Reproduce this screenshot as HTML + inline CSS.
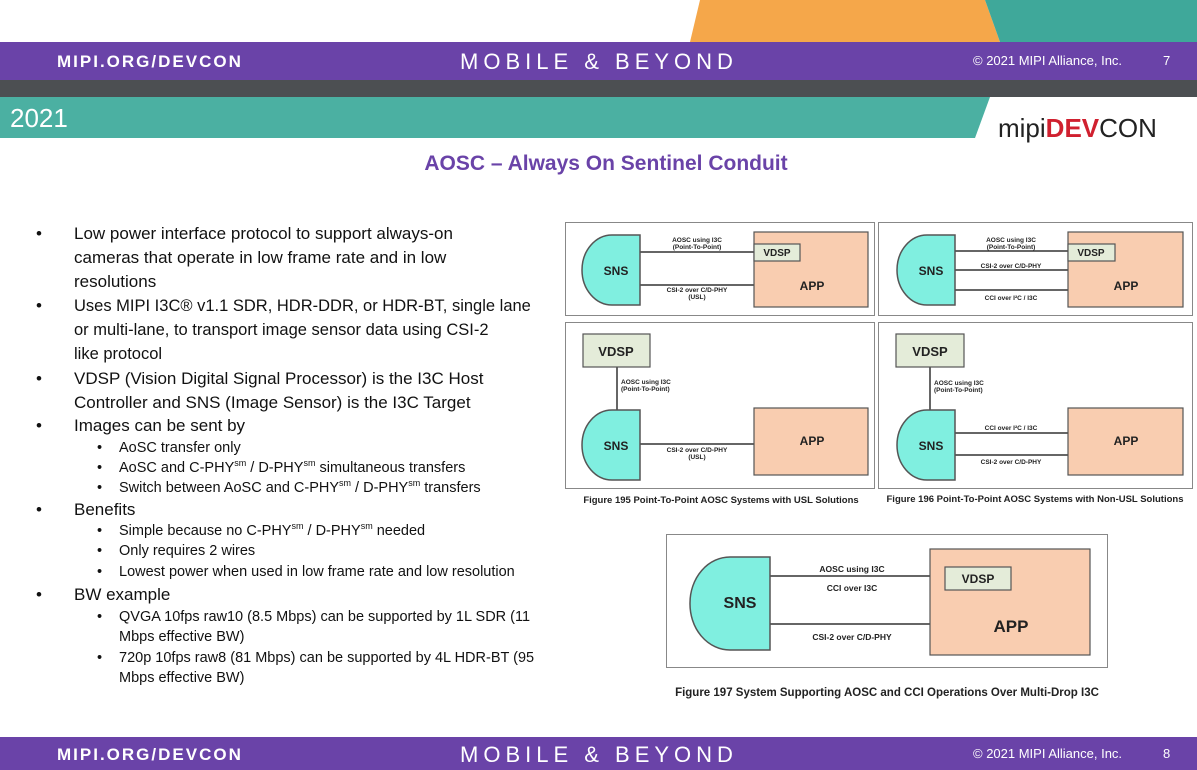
<!DOCTYPE html>
<html><head><meta charset="utf-8"><style>
body{margin:0;width:1197px;height:770px;position:relative;background:#fff;font-family:"Liberation Sans",sans-serif;overflow:hidden}
.a{position:absolute}
.b{position:absolute;font-size:17px;color:#111;line-height:24px;white-space:nowrap}
.s{position:absolute;font-size:14.5px;color:#111;line-height:20px;white-space:nowrap}
sup{font-size:9px;line-height:0;vertical-align:6px}
.hdr{color:#fff;font-weight:bold;letter-spacing:2px;font-size:17px}
</style></head><body>
<div class="a" style="left:0;top:0;width:1197px;height:42px;background:#fff"></div>
<svg class="a" style="left:0;top:0" width="1197" height="42"><polygon points="700,0 985,0 1000,42 690,42" fill="#f5a74a"/><polygon points="985,0 1197,0 1197,42 1000,42" fill="#3fa89a"/></svg>
<div class="a" style="left:0;top:42px;width:1197px;height:38px;background:#6a43a8"></div>
<div class="a hdr" style="left:57px;top:52px">MIPI.ORG/DEVCON</div>
<div class="a" style="left:460px;top:49px;color:#fff;font-size:22px;letter-spacing:5px">MOBILE &amp; BEYOND</div>
<div class="a" style="left:973px;top:53px;color:#fff;font-size:13px">© 2021 MIPI Alliance, Inc.</div>
<div class="a" style="left:1163px;top:53px;color:#fff;font-size:13px">7</div>
<div class="a" style="left:0;top:80px;width:1197px;height:17px;background:#4c4f52"></div>
<div class="a" style="left:0;top:97px;width:1197px;height:41px;background:#4bb0a2"></div>
<svg class="a" style="left:0;top:97px" width="1197" height="41"><polygon points="990,0 1197,0 1197,41 975,41" fill="#fff"/></svg>
<div class="a" style="left:10px;top:103px;color:#fff;font-size:26px">2021</div>
<div class="a" style="left:998px;top:113px;font-size:26px;color:#222">mipi<b style="color:#d0202f">DEV</b>CON</div>
<div class="a" style="left:0;top:152px;width:1212px;text-align:center;color:#6a43a8;font-weight:bold;font-size:21px">AOSC – Always On Sentinel Conduit</div>

<div class="b" style="left:36px;top:222px">•</div>
<div class="b" style="left:74px;top:222px">Low power interface protocol to support always-on<br>cameras that operate in low frame rate and in low<br>resolutions</div>
<div class="b" style="left:36px;top:294px">•</div>
<div class="b" style="left:74px;top:294px;font-size:16.5px">Uses MIPI I3C® v1.1 SDR, HDR-DDR, or HDR-BT, single lane<br>or multi-lane, to transport image sensor data using CSI-2<br>like protocol</div>
<div class="b" style="left:36px;top:367px">•</div>
<div class="b" style="left:74px;top:367px">VDSP (Vision Digital Signal Processor) is the I3C Host<br>Controller and SNS (Image Sensor) is the I3C Target</div>
<div class="b" style="left:36px;top:414px">•</div>
<div class="b" style="left:74px;top:414px">Images can be sent by</div>
<div class="s" style="left:97px;top:438px">•</div><div class="s" style="left:119px;top:438px">AoSC transfer only</div>
<div class="s" style="left:97px;top:458px">•</div><div class="s" style="left:119px;top:458px">AoSC and C-PHY<sup>sm</sup> / D-PHY<sup>sm</sup> simultaneous transfers</div>
<div class="s" style="left:97px;top:478px">•</div><div class="s" style="left:119px;top:478px">Switch between AoSC and C-PHY<sup>sm</sup> / D-PHY<sup>sm</sup> transfers</div>
<div class="b" style="left:36px;top:498px">•</div>
<div class="b" style="left:74px;top:498px">Benefits</div>
<div class="s" style="left:97px;top:521px">•</div><div class="s" style="left:119px;top:521px">Simple because no C-PHY<sup>sm</sup> / D-PHY<sup>sm</sup> needed</div>
<div class="s" style="left:97px;top:541px">•</div><div class="s" style="left:119px;top:541px">Only requires 2 wires</div>
<div class="s" style="left:97px;top:562px">•</div><div class="s" style="left:119px;top:562px">Lowest power when used in low frame rate and low resolution</div>
<div class="b" style="left:36px;top:583px">•</div>
<div class="b" style="left:74px;top:583px">BW example</div>
<div class="s" style="left:97px;top:607px">•</div><div class="s" style="left:119px;top:607px">QVGA 10fps raw10 (8.5 Mbps) can be supported by 1L SDR (11<br>Mbps effective BW)</div>
<div class="s" style="left:97px;top:648px">•</div><div class="s" style="left:119px;top:648px">720p 10fps raw8 (81 Mbps) can be supported by 4L HDR-BT (95<br>Mbps effective BW)</div>

<svg class="a" style="left:0;top:0" width="1197" height="770" font-family="Liberation Sans, sans-serif" font-weight="bold">
<defs>
<g id="sns"><path d="M58,0 H30 A30,35 0 0 0 0,35 A30,35 0 0 0 30,70 H58 Z" fill="#80efe0" stroke="#555" stroke-width="1.5"/><text x="34" y="40" font-size="12" text-anchor="middle" fill="#222">SNS</text></g>
</defs>
<g fill="none" stroke="#888"><rect x="565.5" y="222.5" width="309" height="93"/><rect x="878.5" y="222.5" width="314" height="93"/><rect x="565.5" y="322.5" width="309" height="166"/><rect x="878.5" y="322.5" width="314" height="166"/><rect x="666.5" y="534.5" width="441" height="133"/></g>
<g stroke="#333" stroke-width="1.5">
<line x1="640" y1="252" x2="754" y2="252"/><line x1="640" y1="285" x2="754" y2="285"/>
<line x1="955" y1="251" x2="1068" y2="251"/><line x1="955" y1="270" x2="1068" y2="270"/><line x1="955" y1="290" x2="1068" y2="290"/>
<line x1="617" y1="367" x2="617" y2="410"/><line x1="640" y1="444" x2="754" y2="444"/>
<line x1="930" y1="367" x2="930" y2="410"/><line x1="955" y1="433" x2="1068" y2="433"/><line x1="955" y1="455" x2="1068" y2="455"/>
<line x1="770" y1="576" x2="930" y2="576"/><line x1="770" y1="624" x2="930" y2="624"/>
</g>
<g fill="#f9cdb0" stroke="#555" stroke-width="1.2"><rect x="754" y="232" width="114" height="75"/><rect x="1068" y="232" width="115" height="75"/><rect x="754" y="408" width="114" height="67"/><rect x="1068" y="408" width="115" height="67"/><rect x="930" y="549" width="160" height="106"/></g>
<g fill="#e4ecd9" stroke="#555" stroke-width="1.2"><rect x="754" y="244" width="46" height="17"/><rect x="1068" y="244" width="47" height="17"/><rect x="583" y="334" width="67" height="33"/><rect x="896" y="334" width="68" height="33"/><rect x="945" y="567" width="66" height="23"/></g>
<use href="#sns" x="582" y="235"/><use href="#sns" x="897" y="235"/><use href="#sns" x="582" y="410"/><use href="#sns" x="897" y="410"/>
<path d="M770,557 H730 A40,46 0 0 0 690,603 A40,46 0 0 0 730,650 H770 Z" fill="#80efe0" stroke="#555" stroke-width="1.5"/>
<g fill="#222" text-anchor="middle">
<text x="812" y="290" font-size="12">APP</text><text x="1126" y="290" font-size="12">APP</text><text x="812" y="445" font-size="12">APP</text><text x="1126" y="445" font-size="12">APP</text><text x="1011" y="632" font-size="17">APP</text>
<text x="777" y="256" font-size="10">VDSP</text><text x="1091" y="256" font-size="10">VDSP</text><text x="616" y="356" font-size="13">VDSP</text><text x="930" y="356" font-size="13">VDSP</text><text x="978" y="583" font-size="12">VDSP</text>
<text x="740" y="608" font-size="16">SNS</text>
<g font-size="6.5"><text x="697" y="242">AOSC using I3C</text><text x="697" y="249">(Point-To-Point)</text><text x="697" y="292">CSI-2 over C/D-PHY</text><text x="697" y="299">(USL)</text>
<text x="1011" y="242">AOSC using I3C</text><text x="1011" y="249">(Point-To-Point)</text><text x="1011" y="268">CSI-2 over C/D-PHY</text><text x="1011" y="300">CCI over I²C / I3C</text>
<text x="1011" y="430">CCI over I²C / I3C</text><text x="1011" y="464">CSI-2 over C/D-PHY</text>
<text x="697" y="452">CSI-2 over C/D-PHY</text><text x="697" y="459">(USL)</text></g>
<g font-size="6.5" text-anchor="start"><text x="621" y="384">AOSC using I3C</text><text x="621" y="391">(Point-To-Point)</text><text x="934" y="385">AOSC using I3C</text><text x="934" y="392">(Point-To-Point)</text></g>
<g font-size="8.5"><text x="852" y="572">AOSC using I3C</text><text x="852" y="591">CCI over I3C</text><text x="852" y="640">CSI-2 over C/D-PHY</text></g>
<g font-size="9.5"><text x="721" y="503">Figure 195 Point-To-Point AOSC Systems with USL Solutions</text><text x="1035" y="502">Figure 196 Point-To-Point AOSC Systems with Non-USL Solutions</text></g>
<text x="887" y="696" font-size="11.5">Figure 197 System Supporting AOSC and CCI Operations Over Multi-Drop I3C</text>
</g>
</svg>

<div class="a" style="left:0;top:737px;width:1197px;height:33px;background:#6a43a8"></div>
<div class="a hdr" style="left:57px;top:745px">MIPI.ORG/DEVCON</div>
<div class="a" style="left:460px;top:742px;color:#fff;font-size:22px;letter-spacing:5px">MOBILE &amp; BEYOND</div>
<div class="a" style="left:973px;top:746px;color:#fff;font-size:13px">© 2021 MIPI Alliance, Inc.</div>
<div class="a" style="left:1163px;top:746px;color:#fff;font-size:13px">8</div>
</body></html>
